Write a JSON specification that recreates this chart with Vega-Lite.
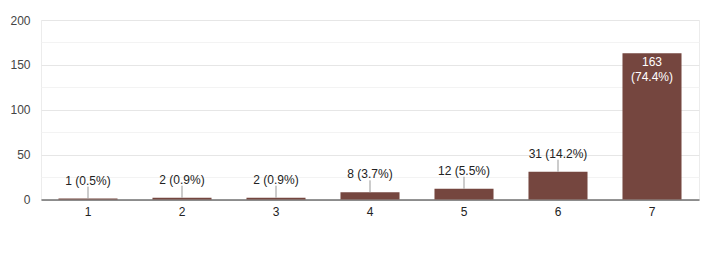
{
  "$schema": "https://vega.github.io/schema/vega-lite/v6.json",
  "autosize": "none",
  "width": 658,
  "height": 179.5,
  "padding": {"left": 41, "top": 20, "right": 10, "bottom": 54.5},
  "background": "white",
  "config": {
    "font": "Liberation Sans",
    "view": {"stroke": "#ececec", "strokeWidth": 1}
  },
  "data": {
    "values": [
      {"option": "1", "count": 1, "label": "1 (0.5%)"},
      {"option": "2", "count": 2, "label": "2 (0.9%)"},
      {"option": "3", "count": 2, "label": "2 (0.9%)"},
      {"option": "4", "count": 8, "label": "8 (3.7%)"},
      {"option": "5", "count": 12, "label": "12 (5.5%)"},
      {"option": "6", "count": 31, "label": "31 (14.2%)"},
      {"option": "7", "count": 163, "label": "163\n(74.4%)"}
    ]
  },
  "encoding": {
    "x": {
      "field": "option",
      "type": "ordinal",
      "scale": {"paddingInner": 0.372, "paddingOuter": 0.186},
      "axis": {
        "title": null,
        "labelAngle": 0,
        "ticks": false,
        "labelPadding": 7,
        "labelFontSize": 12,
        "labelColor": "#222222",
        "domainColor": "#333333",
        "domainWidth": 1.2
      }
    },
    "y": {
      "field": "count",
      "type": "quantitative",
      "scale": {"domain": [0, 200], "nice": false},
      "axis": {
        "title": null,
        "values": [0, 25, 50, 75, 100, 125, 150, 175, 200],
        "labelExpr": "datum.value % 50 === 0 ? datum.label : ''",
        "ticks": false,
        "domain": false,
        "labelPadding": 11,
        "labelFontSize": 12,
        "labelColor": "#444444",
        "gridColor": {"condition": {"test": "datum.value % 50 === 0", "value": "#e6e6e6"}, "value": "#f3f3f3"},
        "gridWidth": 1
      }
    }
  },
  "layer": [
    {
      "mark": {"type": "bar", "color": "#75463f"}
    },
    {
      "transform": [{"filter": "datum.count < 100"}],
      "mark": {"type": "rule", "color": "#999999", "strokeWidth": 1, "y2Offset": -12},
      "encoding": {"y2": {"field": "count"}}
    },
    {
      "transform": [{"filter": "datum.count < 100"}],
      "mark": {"type": "text", "fontSize": 12, "color": "#222222", "baseline": "middle", "dy": -18},
      "encoding": {"text": {"field": "label"}}
    },
    {
      "transform": [{"filter": "datum.count >= 100"}],
      "mark": {"type": "text", "fontSize": 12, "color": "#ffffff", "baseline": "middle", "dy": 9, "lineBreak": "\n", "lineHeight": 15},
      "encoding": {"text": {"field": "label"}}
    }
  ]
}
